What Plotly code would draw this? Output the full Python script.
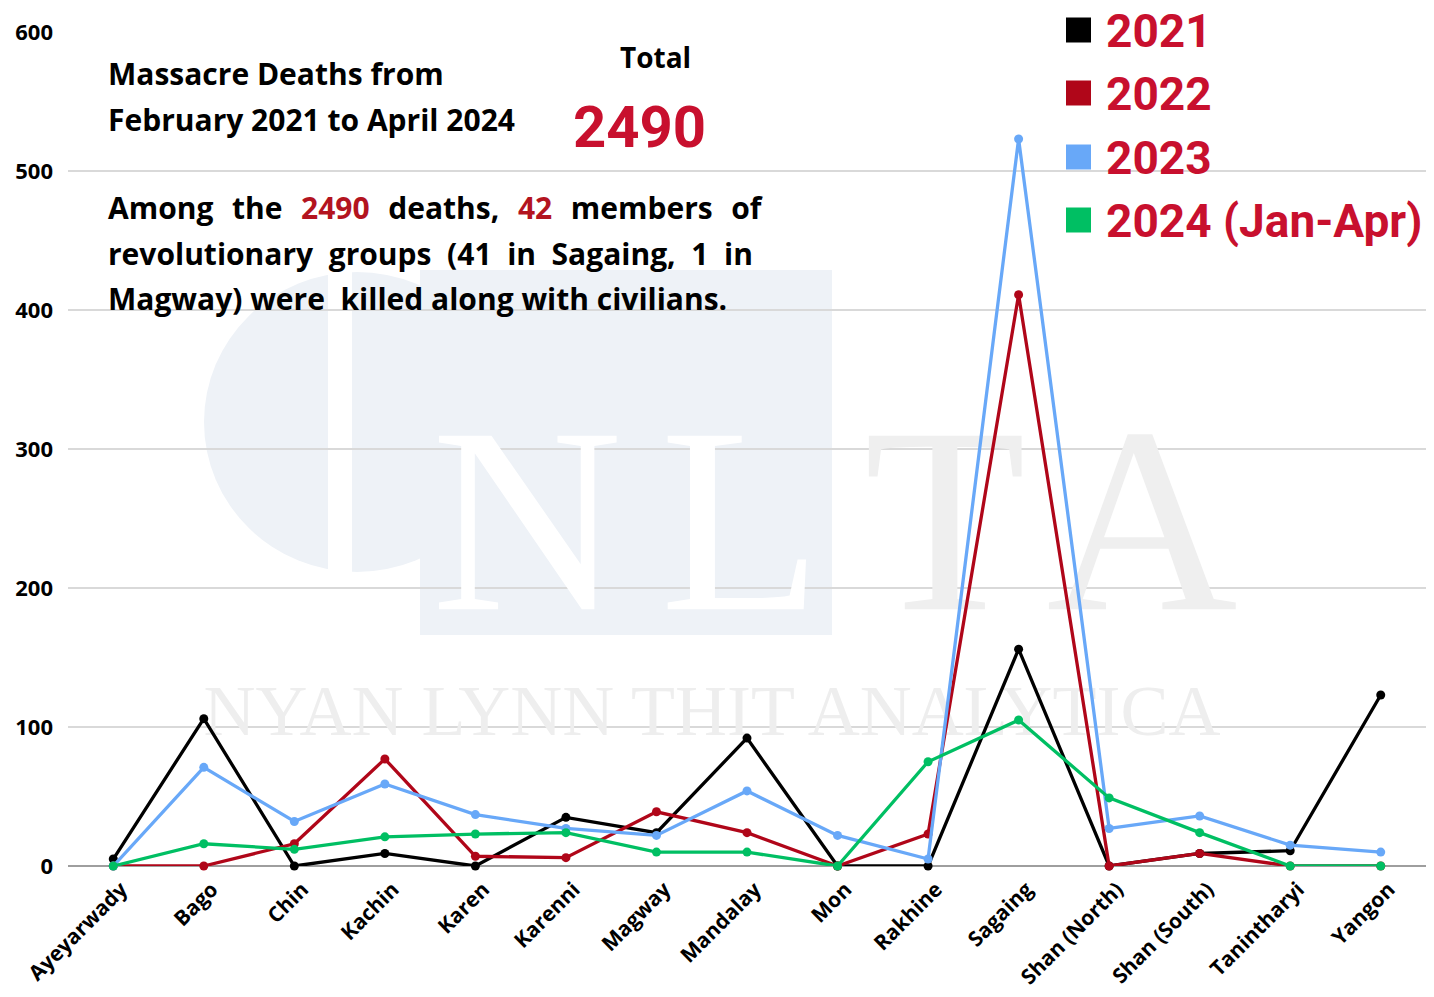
import plotly.graph_objects as go

regions = ["Ayeyarwady", "Bago", "Chin", "Kachin", "Karen", "Karenni", "Magway",
           "Mandalay", "Mon", "Rakhine", "Sagaing", "Shan (North)", "Shan (South)",
           "Tanintharyi", "Yangon"]
deaths_2021 = [5, 106, 0, 9, 0, 35, 24, 92, 0, 0, 156, 0, 9, 11, 123]
deaths_2022 = [0, 0, 16, 77, 7, 6, 39, 24, 0, 23, 411, 0, 9, 0, 0]
deaths_2023 = [0, 71, 32, 59, 37, 27, 22, 54, 22, 5, 523, 27, 36, 15, 10]
deaths_2024 = [0, 16, 12, 21, 23, 24, 10, 10, 0, 75, 105, 49, 24, 0, 0]
series_names = ["2021", "2022", "2023", "2024 (Jan-Apr)"]
series_values = [deaths_2021, deaths_2022, deaths_2023, deaths_2024]
series_colors = ["#000000", "#b00619", "#68a8f8", "#00bf63"]
y_ticks = [0, 100, 200, 300, 400, 500, 600]

W, H = 1434, 997
ML, MR, MT, MB = 68, 8, 32, 131
PW, PH = W - ML - MR, H - MT - MB


def px_x(px):
    return (px - ML) / PW


def px_y(py):
    return (H - MB - py) / PH


def dx(px):  # pixel -> data x (linear category index)
    return -0.5 + (px - ML) / PW * 15


def dy(py):
    return (H - MB - py) / PH * 600


FONT = "'Open Sans', Lato, sans-serif"
NARROW = "Roboto, 'Liberation Sans', sans-serif"
SERIF = "'Liberation Serif', 'DejaVu Serif', serif"

fig = go.Figure()

# watermark letters (drawn first so data lines sit on top)
wm = [("N", 527, 543, "#ffffff", 265), ("L", 741, 543, "#ffffff", 265),
      ("T", 945, 543, "#efefef", 265), ("A", 1142, 543, "#efefef", 265),
      ("NYAN LYNN THIT ANALYTICA", 712, 717, "#eeeeee", 72)]
for txt, x0, y0, col, sz in wm:
    fig.add_trace(go.Scatter(x=[dx(x0)], y=[dy(y0)], mode="text", text=[txt],
                             textposition="middle center",
                             textfont=dict(family=SERIF, size=sz, color=col),
                             hoverinfo="skip", showlegend=False, cliponaxis=False))

idx = list(range(len(regions)))
for name, vals, col in zip(series_names, series_values, series_colors):
    fig.add_trace(go.Scatter(x=idx, y=vals, mode="lines+markers", name=name,
                             line=dict(color=col, width=3.3),
                             marker=dict(color=col, size=9),
                             cliponaxis=False, showlegend=False))

shapes = [
    dict(type="circle", xref="paper", yref="paper", x0=px_x(204), x1=px_x(510),
         y0=px_y(572), y1=px_y(272), fillcolor="#eef2f7", line=dict(width=0), layer="below"),
    dict(type="rect", xref="paper", yref="paper", x0=px_x(328), x1=px_x(352),
         y0=px_y(575), y1=px_y(268), fillcolor="#ffffff", line=dict(width=0), layer="below"),
    dict(type="rect", xref="paper", yref="paper", x0=px_x(420), x1=px_x(832),
         y0=px_y(635), y1=px_y(270), fillcolor="#eef2f7", line=dict(width=0), layer="below"),
]

annotations = []


def ann(text, x, y, size, color="#000000", family=FONT, xanchor="left", weight=700):
    annotations.append(dict(text=text, x=px_x(x), y=px_y(y), xref="paper", yref="paper",
                            xanchor=xanchor, yanchor="middle", showarrow=False,
                            font=dict(family=family, size=size, color=color, weight=weight)))


ann("Massacre Deaths from", 106, 73, 30)
ann("February 2021 to April 2024", 106, 119, 30)
ann("Total", 655, 57, 28, xanchor="center")
ann("2490", 639, 127, 58, color="#c8102e", family=NARROW, xanchor="center")

red = "#b3141f"
g1 = "  \u200a"
g2 = "  "
line1 = g1.join(["Among", "the", f"<span style='color:{red}'>2490</span>", "deaths,",
                 f"<span style='color:{red}'>42</span>", "members", "of"])
line2 = g2.join(["revolutionary", "groups", "(41", "in", "Sagaing,", "1", "in"])
ann(line1, 106, 207, 30)
ann(line2, 106, 253, 30)
ann("Magway) were  killed along with civilians.", 106, 298, 30)

legend_y = [30, 93, 157, 220]
for name, col, ly in zip(series_names, series_colors, legend_y):
    shapes.append(dict(type="rect", xref="paper", yref="paper", x0=px_x(1066), x1=px_x(1091),
                       y0=px_y(ly + 12.5), y1=px_y(ly - 12.5), fillcolor=col,
                       line=dict(width=0), layer="above"))
    ann(name, 1104, ly + 1, 46, color="#c8102e", family=NARROW)

fig.update_layout(
    width=W, height=H,
    margin=dict(l=ML, r=MR, t=MT, b=MB),
    paper_bgcolor="#ffffff", plot_bgcolor="rgba(0,0,0,0)",
    showlegend=False,
    shapes=shapes, annotations=annotations,
    font=dict(family=FONT, color="#000000"),
)
fig.update_xaxes(range=[-0.5, 14.5], tickmode="array", tickvals=idx, ticktext=regions,
                 tickangle=-45, showgrid=False, zeroline=False, showline=False,
                 tickfont=dict(family=FONT, size=21, color="#000000", weight=700),
                 ticklabelstandoff=6, ticklabelshift=8)
fig.update_yaxes(range=[0, 600], tickmode="array", tickvals=y_ticks,
                 showgrid=True, gridcolor="#d9d9d9", gridwidth=1.5,
                 zeroline=True, zerolinecolor="#9e9e9e", zerolinewidth=1.5,
                 showline=False,
                 tickfont=dict(family=FONT, size=22, color="#000000", weight=700),
                 ticklabelstandoff=14)

fig.write_html("out.html", config={"displayModeBar": False},
               post_script="document.body.style.margin='0';document.body.style.overflow='hidden';")
